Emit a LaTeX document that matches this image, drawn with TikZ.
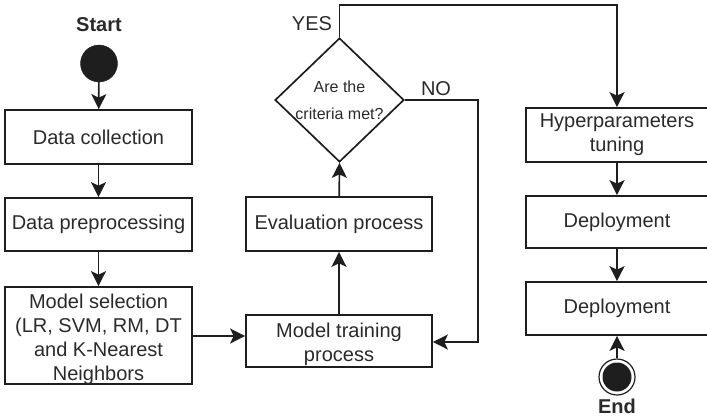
\documentclass[tikz,border=0pt]{standalone}
\usepackage{fontspec}
\setmainfont{Liberation Sans}
\usetikzlibrary{shapes.geometric,arrows.meta}
\definecolor{ink}{HTML}{1E1E1E}
\definecolor{txt}{HTML}{2A2A2A}
\newcommand{\dropby}[2]{\raisebox{-#1}[\height][\depth]{#2}}
\begin{document}
\begin{tikzpicture}[x=1pt,y=-1pt,
  box/.style={draw=ink,line width=1.7pt,rectangle,inner sep=0pt,align=center,
    font=\fontsize{20}{24}\selectfont,text=txt},
  conn/.style={draw=ink,line width=1.7pt,-{Stealth[length=15pt,width=15pt,inset=3.5pt]}},
  lbl/.style={font=\fontsize{20}{24}\selectfont,text=txt,inner sep=0pt}]
\useasboundingbox (0,0) rectangle (707,418);
% start / end
\node[lbl,font=\fontsize{20}{24}\bfseries\selectfont] (startlbl) at (99,25) {Start};
\node[circle,fill=ink,draw=ink,minimum size=37pt,inner sep=0pt] (start) at (99,63.5) {};
% left column
\node[box,minimum width=187pt,minimum height=54pt] (dc) at (98.5,137) {Data collection};
\node[box,minimum width=187pt,minimum height=53pt] (dp) at (98.5,224.5) {Data preprocessing};
\node[box,minimum width=187pt,minimum height=97pt] (ms) at (98.5,335.5)
  {\dropby{4pt}{\begin{tabular}{@{}c@{}}Model selection\\(LR, SVM, RM, DT\\and K-Nearest\\Neighbors\end{tabular}}};
% middle column
\node[box,minimum width=186pt,minimum height=52pt] (mt) at (339,341)
  {\dropby{4pt}{\begin{tabular}{@{}c@{}}Model training\\process\end{tabular}}};
\node[box,minimum width=186pt,minimum height=54pt] (ev) at (339,224) {Evaluation process};
\node[diamond,draw=ink,line width=1.7pt,minimum width=129pt,minimum height=124pt,inner sep=0pt,
  font=\fontsize{16}{19}\selectfont,text=txt] (dm) at (339.5,100)
  {\raisebox{-7pt}[0pt][0pt]{\makebox[0pt]{\begin{tabular}{@{}c@{}}Are the\\[8pt]criteria met?\end{tabular}}}};
% right column
\node[box,minimum width=182pt,minimum height=54pt] (hp) at (617,135) {Hyperparameters\\tuning};
\node[box,minimum width=182pt,minimum height=52pt] (d1) at (617,222) {Deployment};
\node[box,minimum width=182pt,minimum height=53pt] (d2) at (617,308.5) {Deployment};
\node[circle,draw=ink,line width=1.2pt,minimum size=36pt,inner sep=0pt] (end) at (617,377) {};
\fill[ink] (end.center) circle (14.5pt);
\node[lbl,font=\fontsize{20}{24}\bfseries\selectfont] (endlbl) at (617,406) {End};
% labels
\node[lbl] (yes) at (312,24) {YES};
\node[lbl] (no) at (436,89) {NO};
\coordinate (ytop) at (339.5,5);
\coordinate (yright) at (617,5);
\coordinate (nright) at (478,100);
\coordinate (nbot) at (478,342);
% connectors
\draw[conn] (start) -- (dc);
\draw[conn] (dc) -- (dp);
\draw[conn] (dp) -- (ms);
\draw[conn] (ms.east |- 0,336) -- (mt.west |- 0,336);
\draw[conn] (mt) -- (ev);
\draw[conn] (ev) -- (dm.south);
\draw[conn] (dm.north) -- (ytop) -- (yright) -- (hp.north);
\draw[conn] (dm.east) -- (nright) -- (nbot) -- (mt.east |- nbot);
\draw[conn] (hp) -- (d1);
\draw[conn] (d1) -- (d2);
\draw[conn] (end) -- (d2);
\end{tikzpicture}
\end{document}
